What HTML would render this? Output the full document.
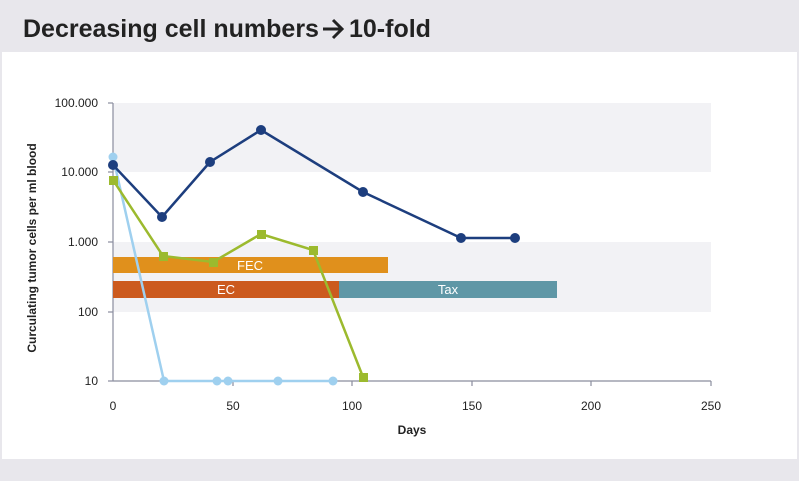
<!DOCTYPE html><html><head><style>
body{margin:0;width:799px;height:481px;background:#e8e7ec;overflow:hidden;font-family:"Liberation Sans",sans-serif}
</style></head><body>
<svg width="799" height="481" xmlns="http://www.w3.org/2000/svg" style="position:absolute;left:0;top:0">
<rect x="0" y="0" width="799" height="481" fill="#e8e7ec"/>
<text x="23" y="37" font-size="25" font-weight="bold" fill="#222" font-family="Liberation Sans Narrow, Liberation Sans, sans-serif">Decreasing cell numbers</text>
<path d="M323 29 H341 M333 20 L342 29 L333 38" fill="none" stroke="#222" stroke-width="3"/>
<text x="349" y="37" font-size="25" font-weight="bold" fill="#222" font-family="Liberation Sans Narrow, Liberation Sans, sans-serif">10-fold</text>
<rect x="2" y="52" width="795" height="407" fill="#fff"/>
<rect x="113" y="103" width="598" height="69" fill="#f2f2f5"/>
<rect x="113" y="242" width="598" height="70" fill="#f2f2f5"/>
<g stroke="#8a8d9e" stroke-width="1.2">
<line x1="113" y1="103" x2="113" y2="381"/><line x1="113" y1="381" x2="711" y2="381"/>
<line x1="108" y1="103" x2="113" y2="103"/><line x1="108" y1="172" x2="113" y2="172"/><line x1="108" y1="242" x2="113" y2="242"/><line x1="108" y1="312" x2="113" y2="312"/><line x1="108" y1="381" x2="113" y2="381"/>
<line x1="233" y1="381" x2="233" y2="386"/><line x1="352" y1="381" x2="352" y2="386"/><line x1="472" y1="381" x2="472" y2="386"/><line x1="591" y1="381" x2="591" y2="386"/><line x1="711" y1="381" x2="711" y2="386"/>
</g>
<g font-size="12" fill="#222" text-anchor="end">
<text x="98" y="107">100.000</text><text x="98" y="176">10.000</text><text x="98" y="246">1.000</text><text x="98" y="316">100</text><text x="98" y="385">10</text></g>
<g font-size="12" fill="#222" text-anchor="middle">
<text x="113" y="410">0</text><text x="233" y="410">50</text><text x="352" y="410">100</text><text x="472" y="410">150</text><text x="591" y="410">200</text><text x="711" y="410">250</text></g>
<text x="412" y="434" font-size="12" font-weight="bold" text-anchor="middle" fill="#222">Days</text>
<text transform="translate(36,248) rotate(-90)" font-size="12" font-weight="bold" text-anchor="middle" fill="#222">Curculating tumor cells per ml blood</text>
<rect x="113" y="257" width="275" height="16" fill="#e0901c"/>
<text x="250" y="270" font-size="13" fill="#fff" text-anchor="middle">FEC</text>
<rect x="113" y="281" width="226" height="17" fill="#cc5a1e"/>
<text x="226" y="294" font-size="13" fill="#fff" text-anchor="middle">EC</text>
<rect x="339" y="281" width="218" height="17" fill="#5f97a6"/>
<text x="448" y="294" font-size="13" fill="#fff" text-anchor="middle">Tax</text>
<polyline points="113,157 164,381 217,381 228,381 278,381 333,381" fill="none" stroke="#9fd0ef" stroke-width="2.5"/>
<g fill="#9fd0ef"><circle cx="113" cy="157" r="4.5"/><circle cx="164" cy="381" r="4.5"/><circle cx="217" cy="381" r="4.5"/><circle cx="228" cy="381" r="4.5"/><circle cx="278" cy="381" r="4.5"/><circle cx="333" cy="381" r="4.5"/></g>
<polyline points="113,180 163,256 213,262 261,234 313,250 363,377" fill="none" stroke="#9cba2e" stroke-width="2.5"/>
<g fill="#9cba2e"><rect x="109" y="176" width="9" height="9"/><rect x="159" y="252" width="9" height="9"/><rect x="209" y="258" width="9" height="9"/><rect x="257" y="230" width="9" height="9"/><rect x="309" y="246" width="9" height="9"/><rect x="359" y="373" width="9" height="9"/></g>
<polyline points="113,165 162,217 210,162 261,130 363,192 461,238 515,238" fill="none" stroke="#1d3e7e" stroke-width="2.5"/>
<g fill="#1d3e7e"><circle cx="113" cy="165" r="5"/><circle cx="162" cy="217" r="5"/><circle cx="210" cy="162" r="5"/><circle cx="261" cy="130" r="5"/><circle cx="363" cy="192" r="5"/><circle cx="461" cy="238" r="5"/><circle cx="515" cy="238" r="5"/></g>
</svg>
</body></html>
